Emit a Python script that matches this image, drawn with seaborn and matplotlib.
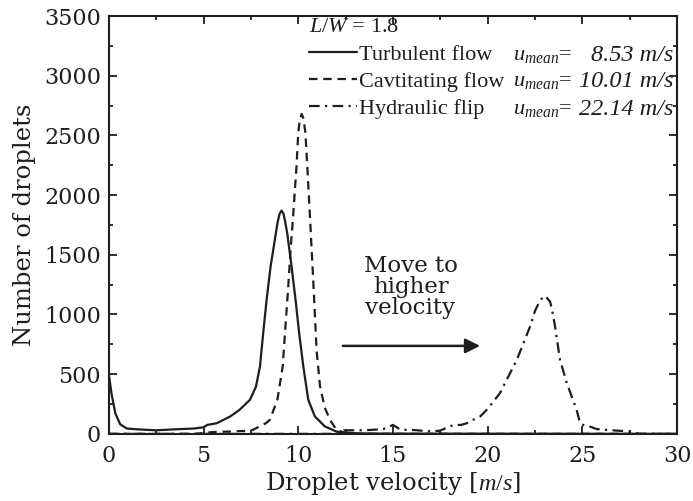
import matplotlib
matplotlib.use("Agg")
import matplotlib.pyplot as plt
import seaborn as sns
import pandas as pd
import numpy as np

# ---------------- data ----------------
turb_x = [0, 0.15, 0.35, 0.6, 0.95, 1.5, 2.5, 3.5, 4.5, 5.0, 5.2, 5.7, 6.4, 6.9, 7.45,
          7.77, 7.98, 8.15, 8.33, 8.54, 8.82, 8.92, 9.02, 9.12, 9.22, 9.32, 9.42, 9.65,
          9.86, 10.05, 10.27, 10.53, 10.88, 11.41, 12.0, 12.4, 13.0, 14.0, 15.0, 30.0]
turb_y = [500, 330, 170, 80, 45, 38, 30, 38, 45, 55, 75, 89, 145, 201, 285,
          396, 564, 843, 1122, 1401, 1680, 1780, 1845, 1870, 1845, 1770, 1680, 1401,
          1122, 843, 564, 285, 145, 62, 20, 12, 5, 3, 2, 0]

cav_x = [0, 4.5, 5.5, 6.5, 7.2, 7.6, 8.3, 8.5, 8.9, 9.18, 9.3, 9.46, 9.6, 9.72, 9.91,
         10.0, 10.08, 10.18, 10.28, 10.38, 10.48, 10.62, 10.8, 10.97, 11.15, 11.4,
         11.7, 12.0, 12.4, 13.0, 30.0]
cav_y = [0, 0, 15, 20, 25, 33, 90, 117, 285, 564, 843, 1200, 1550, 1800, 2238,
         2519, 2630, 2680, 2640, 2519, 2238, 1820, 1260, 700, 400, 220,
         110, 40, 10, 0, 0]

hyd_x = [0, 12.0, 12.4, 13.5, 14.5, 15.0, 15.4, 16.0, 17.1, 17.5, 18.2, 18.6, 18.9,
         19.4, 19.6, 19.95, 20.65, 21.54, 22.24, 22.5, 22.77, 23.03, 23.3, 23.47,
         23.56, 23.82, 24.18, 24.7, 24.88, 25.04, 25.4, 25.76, 26.3, 27.5, 28.0, 30.0]
hyd_y = [0, 0, 30, 30, 40, 75, 35, 33, 20, 28, 75, 75, 89,
         131, 145, 201, 341, 620, 899, 1030, 1120, 1156, 1108, 982,
         899, 620, 425, 201, 89, 75, 61, 40, 33, 20, 0, 0]

series_names = ["Turbulent flow", "Cavtitating flow", "Hydraulic flip"]
u_mean_values = ["8.53", "10.01", "22.14"]
x_ticks = [0, 5, 10, 15, 20, 25, 30]
y_ticks = [0, 500, 1000, 1500, 2000, 2500, 3000, 3500]

# ---------------- style ----------------
sns.set_theme(style="ticks")
plt.rcParams["font.family"] = ["DejaVu Serif"]
plt.rcParams["mathtext.fontset"] = "custom"
plt.rcParams["mathtext.rm"] = "Liberation Serif"
plt.rcParams["mathtext.it"] = "Liberation Serif:italic"
plt.rcParams["mathtext.bf"] = "Liberation Serif:bold"

ink = "#1e1e1e"

fig = plt.figure(figsize=(6.93, 5.01), dpi=100)
ax = fig.add_axes([0.157, 0.134, 0.820, 0.834])

frames = []
for name, xs, ys in zip(series_names, [turb_x, cav_x, hyd_x], [turb_y, cav_y, hyd_y]):
    frames.append(pd.DataFrame({"v": xs, "n": ys, "series": name}))
df = pd.concat(frames, ignore_index=True)

dash_map = {"Turbulent flow": "",
            "Cavtitating flow": (3.8, 2.6),
            "Hydraulic flip": (4.8, 2.4, 1.0, 2.4)}

sns.lineplot(data=df, x="v", y="n", hue="series", style="series",
             palette=[ink] * 3, dashes=dash_map, sort=False, estimator=None,
             linewidth=1.6, ax=ax, legend=False)
for ln in ax.get_lines():
    ln.set_solid_joinstyle("round")
    ln.set_dash_joinstyle("round")

ax.set_xlim(0, 30)
ax.set_ylim(0, 3500)
ax.set_xticks(x_ticks)
ax.set_yticks(y_ticks)
ax.set_xticks(np.arange(0, 30.1, 2.5), minor=True)
ax.set_yticks(np.arange(0, 3501, 250), minor=True)
ax.tick_params(which="both", direction="in", top=True, right=True, color=ink,
               width=1.3)
ax.tick_params(which="major", length=6, labelsize=16, pad=5.5, labelcolor=ink)
ax.tick_params(which="minor", length=3)
ax.tick_params(axis="x", which="major", pad=8)
for s in ax.spines.values():
    s.set_linewidth(1.5)
    s.set_color(ink)

ax.set_xlabel("Droplet velocity [$m/s$]", fontsize=17.5, color=ink, labelpad=2)
ax.set_ylabel("Number of droplets", fontsize=17.5, color=ink, labelpad=6)

# legend
handles = ax.get_lines()[:3]
leg = ax.legend(handles, series_names, loc="upper left",
                bbox_to_anchor=(0.345, 1.005), frameon=False,
                prop={"family": "Liberation Serif", "size": 16},
                handlelength=2.15, handletextpad=0.1, labelspacing=0.3,
                borderaxespad=0, borderpad=0.2,
                title="$L/W$ = 1.8", title_fontproperties={"family": "Liberation Serif", "size": 16},
                alignment="left")
for t in leg.get_texts():
    t.set_color(ink)
leg.get_title().set_color(ink)

fig.canvas.draw()
renderer = fig.canvas.get_renderer()
inv = ax.transAxes.inverted()
for txt, val in zip(leg.get_texts(), u_mean_values):
    bb = txt.get_window_extent(renderer)
    yy = inv.transform((0, (bb.y0 + bb.y1) / 2))[1]
    ax.text(0.711, yy, r"$u_{mean}$=", transform=ax.transAxes, ha="left",
            va="center", family="Liberation Serif", fontsize=16, color=ink)
    ax.text(0.994, yy, val + " m/s", transform=ax.transAxes, ha="right",
            va="center", family="Liberation Serif", style="italic", fontsize=17.5,
            color=ink)

# annotation
ax.annotate("", xy=(19.6, 737), xytext=(12.36, 737),
            arrowprops=dict(arrowstyle="-|>", color=ink, lw=1.8,
                            mutation_scale=22, shrinkA=0, shrinkB=0))
ax.text(15.93, 1231, "Move to\nhigher\nvelocity", ha="center", va="center",
        fontsize=16.5, linespacing=0.95, color=ink)

fig.savefig("out.png", dpi=100)
